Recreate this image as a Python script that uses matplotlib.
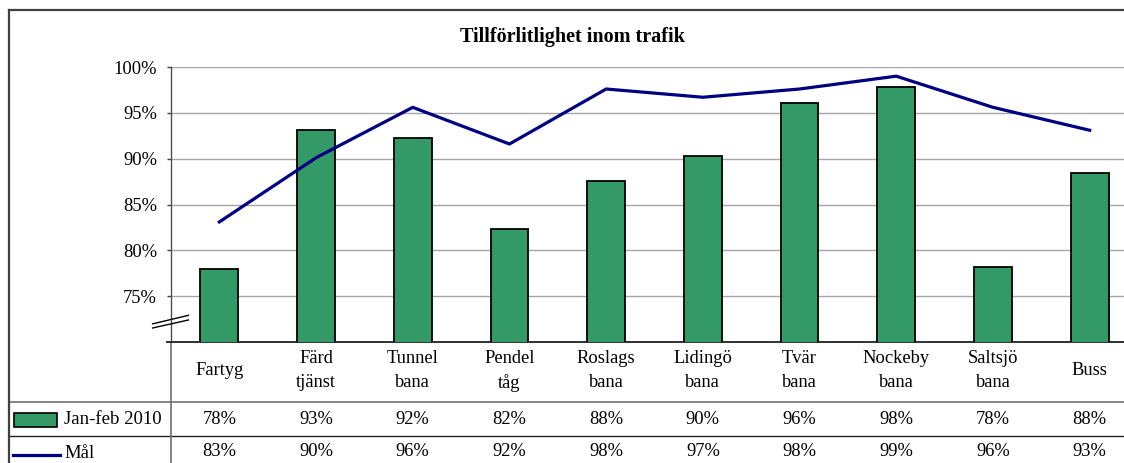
import matplotlib
matplotlib.use("Agg")
import matplotlib.pyplot as plt
import matplotlib.transforms as mtransforms
from matplotlib.patches import Rectangle
from matplotlib.lines import Line2D
import numpy as np

# chart data
categories = ["Fartyg", "Färd\ntjänst", "Tunnel\nbana", "Pendel\ntåg", "Roslags\nbana",
              "Lidingö\nbana", "Tvär\nbana", "Nockeby\nbana", "Saltsjö\nbana", "Buss"]
actual_2010 = [78.0, 93.1, 92.3, 82.3, 87.6, 90.3, 96.1, 97.8, 78.2, 88.4]
target = [83.1, 90.1, 95.6, 91.6, 97.6, 96.7, 97.6, 99.0, 95.6, 93.1]
y_ticks = [75, 80, 85, 90, 95, 100]
series_names = ["Jan-feb 2010", "Mål"]
title = "Tillförlitlighet inom trafik"

bar_color = "#339966"
line_color = "#000080"

plt.rcParams["font.family"] = ["Liberation Serif", "DejaVu Serif"]

fig = plt.figure(figsize=(11.24, 4.63), dpi=100)
ax = fig.add_axes([171 / 1124, 1 - 342 / 463, 967 / 1124, 275 / 463])

x = np.arange(len(categories))
ax.bar(x, actual_2010, width=0.39, bottom=0, color=bar_color,
       edgecolor="black", linewidth=1.3, zorder=3)
ax.plot(x, target, color=line_color, linewidth=2.3, zorder=4)

ax.set_xlim(-0.5, len(categories) - 0.5)
ax.set_ylim(70, 100)
ax.set_yticks(y_ticks)
ax.set_yticklabels([f"{t}%" for t in y_ticks], fontsize=13.3)
ax.set_xticks([])
ax.yaxis.grid(True, color="#a6a6a6", linewidth=1.0)
ax.set_axisbelow(True)
ax.tick_params(axis="y", length=3, width=1, color="#404040", pad=7)
for side in ["top", "right"]:
    ax.spines[side].set_visible(False)
ax.spines["left"].set_color("#505050")
ax.spines["left"].set_linewidth(1.0)
ax.spines["bottom"].set_color("#202020")
ax.spines["bottom"].set_linewidth(1.3)

# axis break marks
for y0, y1 in [(0.051, 0.080), (0.066, 0.097)]:
    ax.plot([-0.019, 0.018], [y0, y1], transform=ax.transAxes, color="black",
            linewidth=1.0, clip_on=False, zorder=5)

# data table under the chart
trans = mtransforms.blended_transform_factory(ax.transData, ax.transAxes)
for i, cat in enumerate(categories):
    ax.text(i, -0.105, cat, transform=trans, ha="center", va="center",
            fontsize=13.3, linespacing=1.55, clip_on=False)
    ax.text(i, -0.28, f"{round(actual_2010[i])}%", transform=trans, ha="center",
            va="center", fontsize=13.3, clip_on=False)
    ax.text(i, -0.40, f"{round(target[i])}%", transform=trans, ha="center",
            va="center", fontsize=13.3, clip_on=False)

# table grid lines (figure pixel coords)
def fx(px):
    return px / 1124

def fy(py):
    return 1 - py / 463

fig.add_artist(Line2D([fx(9), fx(1124)], [fy(402), fy(402)], color="#707070", linewidth=1.2))
fig.add_artist(Line2D([fx(9), fx(1124)], [fy(436), fy(436)], color="#202020", linewidth=1.0))
fig.add_artist(Line2D([fx(171), fx(171)], [fy(342), fy(463)], color="#707070", linewidth=1.2))
fig.add_artist(Line2D([fx(167), fx(171)], [fy(342), fy(342)], color="#202020", linewidth=1.3))

# legend keys inside the table
fig.add_artist(Rectangle((fx(14), fy(427)), fx(43), 14 / 463, facecolor=bar_color,
                         edgecolor="black", linewidth=1.2))
fig.text(fx(64), fy(419), series_names[0], ha="left", va="center", fontsize=13.5)
fig.add_artist(Line2D([fx(13), fx(60)], [fy(455), fy(455)], color=line_color, linewidth=2.3))
fig.text(fx(64), fy(453), series_names[1], ha="left", va="center", fontsize=13.5)

# outer chart frame
fig.add_artist(Line2D([fx(9), fx(9)], [fy(10), fy(463)], color="#404040", linewidth=1.6))
fig.add_artist(Line2D([fx(9), fx(1124)], [fy(10), fy(10)], color="#404040", linewidth=1.6))

fig.text(0.5095, fy(37), title, ha="center", va="center", fontsize=14.5, fontweight="bold")

fig.savefig("out.png", dpi=100)
